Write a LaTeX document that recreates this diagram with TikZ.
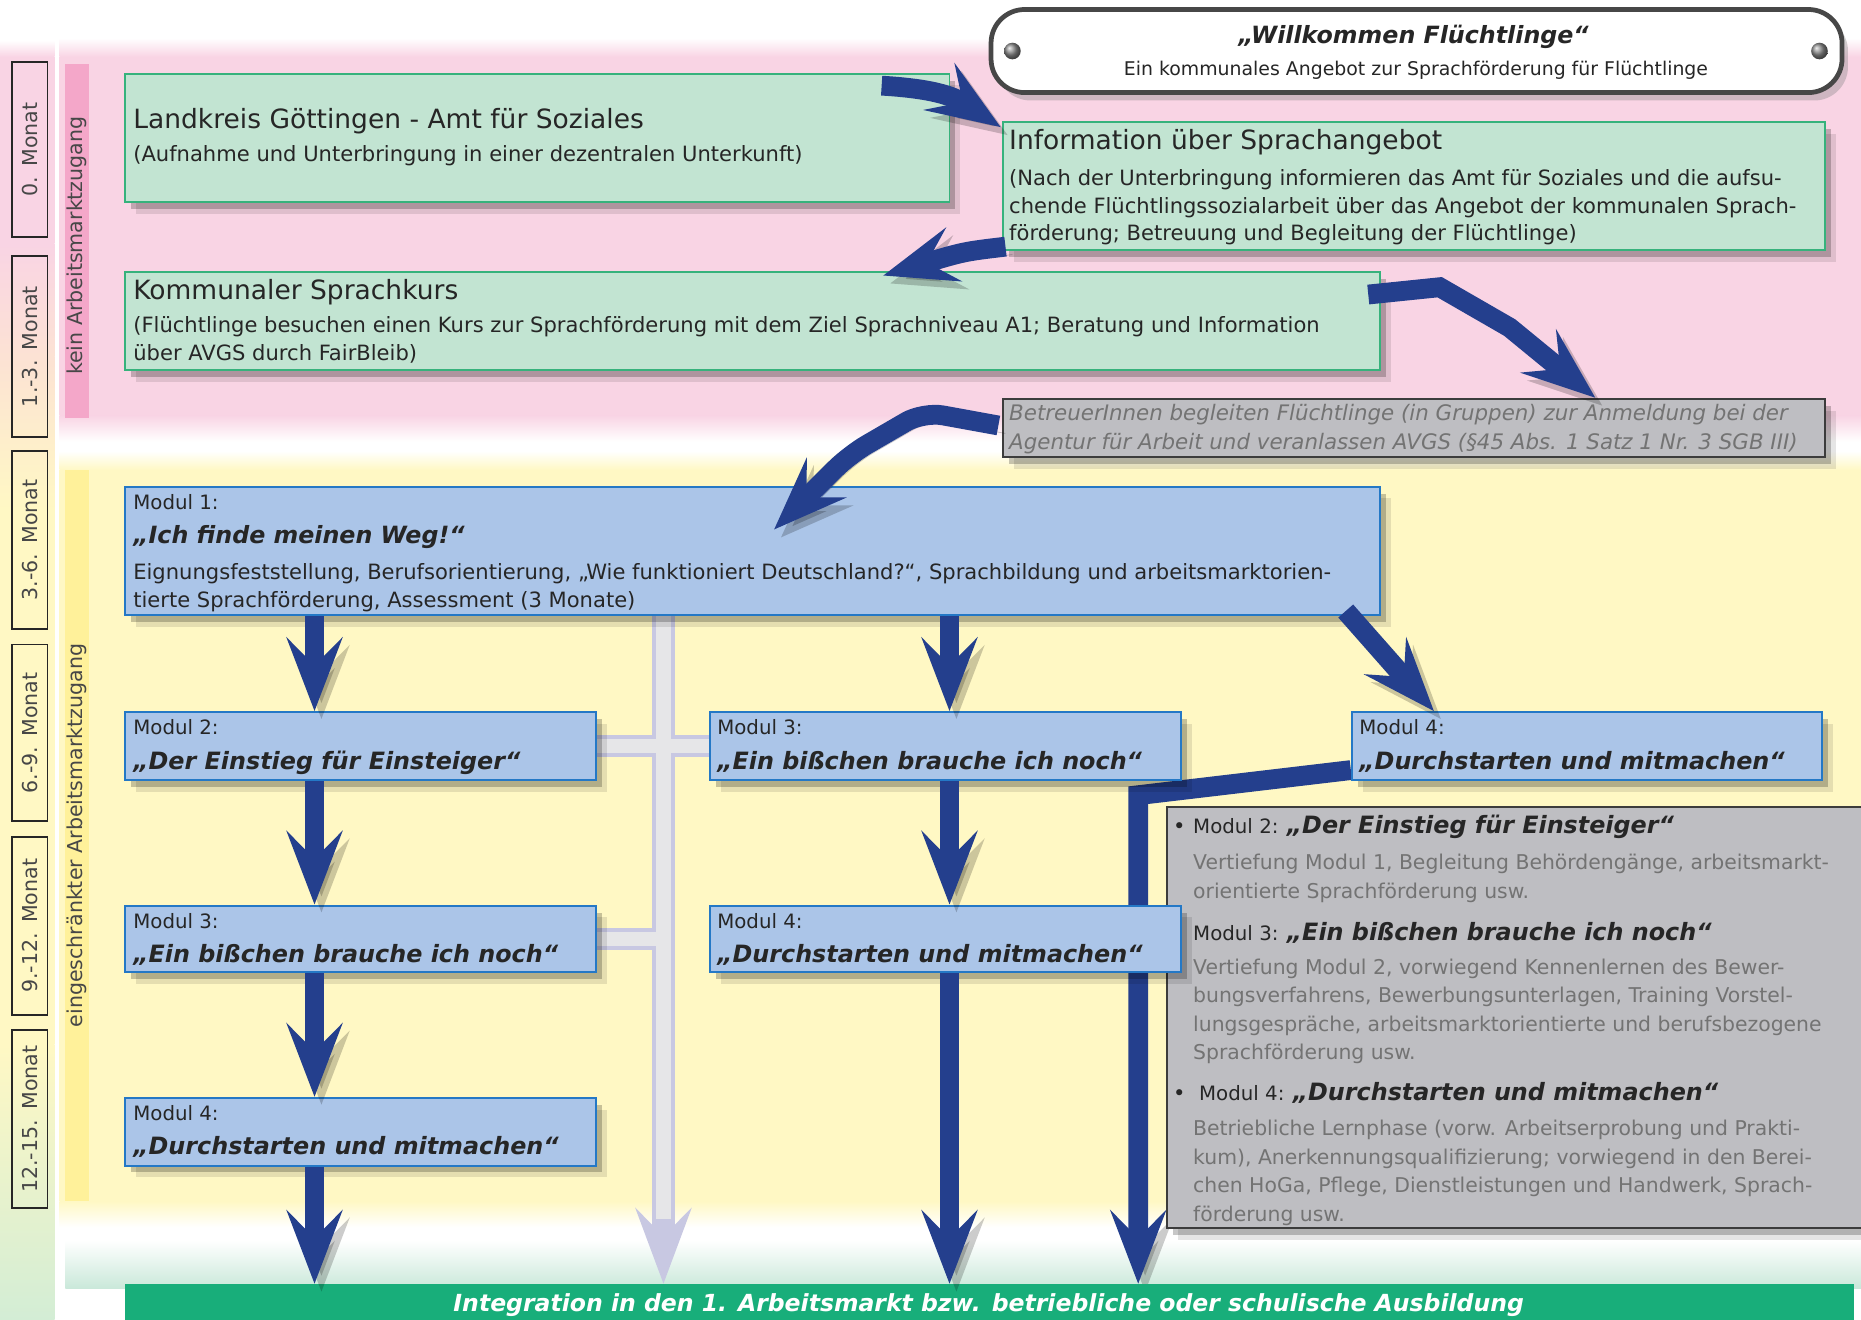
\documentclass[tikz,border=0pt]{standalone}
\usepackage{fontspec}
\setmainfont{DejaVu Sans}
\usetikzlibrary{arrows.meta,shadows,calc,fit}
\pgfdeclarelayer{bg}
\pgfdeclarelayer{back}
\pgfsetlayers{bg,back,main}
\definecolor{pinkbg}{HTML}{F9D4E4}
\definecolor{pinkbar}{HTML}{F4A7C9}
\definecolor{peach}{HTML}{FCE2D4}
\definecolor{yellowbg}{HTML}{FFF8C4}
\definecolor{yellowbar}{HTML}{FFF19A}
\definecolor{stripgreen}{HTML}{D3EDD5}
\definecolor{mint}{HTML}{C9E8D9}
\definecolor{gfill}{HTML}{C2E4D2}
\definecolor{gdraw}{HTML}{36B27C}
\definecolor{bfill}{HTML}{ABC5E8}
\definecolor{bdraw}{HTML}{2478C6}
\definecolor{grfill}{HTML}{BEBEC2}
\definecolor{grdraw}{HTML}{3C3C3C}
\definecolor{ablue}{HTML}{243F8D}
\definecolor{lav}{HTML}{C8C8E2}
\definecolor{lgray}{HTML}{E6E6E8}
\definecolor{barg}{HTML}{18AE7A}
\definecolor{ink}{HTML}{262626}
\definecolor{graytxt}{HTML}{737373}
\newcommand\fBody{\fontsize{10.65}{12}\selectfont}
\newcommand\fDesc{\fontsize{10.3}{12}\selectfont}
\newcommand\fBetr{\fontsize{10.8}{12}\selectfont\itshape}
\newcommand\fHead{\fontsize{13.4}{16}\selectfont}
\newcommand\fLab{\fontsize{10}{12}\selectfont}
\newcommand\fTit{\fontsize{12.05}{15}\selectfont\bfseries\itshape}
\newcommand\fBig{\fontsize{12}{15}\selectfont\bfseries\itshape}
\begin{document}
\begin{tikzpicture}[x=0.6pt,y=-0.6pt,
  sh/.style={drop shadow={shadow xshift=3pt,shadow yshift=-3.5pt,opacity=.22,fill=black},
             drop shadow={shadow xshift=5.5pt,shadow yshift=-6pt,opacity=.10,fill=black}},
  gbox/.style={draw=gdraw,fill=gfill,line width=1pt,inner sep=0,sh},
  bbox/.style={draw=bdraw,fill=bfill,line width=1pt,inner sep=0,sh},
  grbox/.style={draw=grdraw,fill=grfill,line width=1pt,inner sep=0,sh},
  mbox/.style={draw=black!85,line width=0.9pt,inner sep=0},
  txt/.style={anchor=base west,inner sep=0,text=ink},
  rot/.style={rotate=90,inner sep=0,text=ink!85,font=\fontsize{10.4}{12}\selectfont},
  bigarrow/.style={draw=ablue,line width=10pt,line join=miter,
     -{Stealth[length=37pt,width=28pt,inset=14pt]},
     preaction={draw=black,opacity=.2,transform canvas={shift={(3.5pt,-4pt)}}}},
  lightarrow/.style={draw=lav,line width=12pt,-{Stealth[length=38pt,width=28pt,inset=14pt]}},
]
\useasboundingbox (0,0) rectangle (1568,1112);

\begin{pgfonlayer}{bg}
  \fill[white] (0,0) rectangle (1568,1112);
  % left month strip
  \shade[top color=white,bottom color=pinkbg] (0,34) rectangle (46,48);
  \fill[pinkbg] (0,48) rectangle (46,205);
  \shade[top color=pinkbg,bottom color=peach] (0,205) rectangle (46,300);
  \shade[top color=peach,bottom color=yellowbg] (0,300) rectangle (46,430);
  \fill[yellowbg] (0,430) rectangle (46,880);
  \shade[top color=yellowbg,bottom color=stripgreen] (0,880) rectangle (46,1112);
  % bands
  \shade[top color=white,bottom color=pinkbg] (50,32) rectangle (1568,48);
  \fill[pinkbg] (50,48) rectangle (1568,350);
  \shade[top color=pinkbg,bottom color=white] (50,350) rectangle (1568,372);
  \shade[top color=white,bottom color=yellowbg] (50,380) rectangle (1568,396);
  \fill[yellowbg] (50,396) rectangle (1568,1012);
  \shade[top color=yellowbg,bottom color=white] (50,1012) rectangle (1568,1034);
  \shade[top color=white,bottom color=mint] (55,1045) rectangle (1568,1086);
  % vertical bars
  \fill[pinkbar] (55,54) rectangle (75,352);
  \fill[yellowbar] (55,396) rectangle (75,1012);
\end{pgfonlayer}

% vertical labels
\node[rot] (kein) at (65,207) {kein Arbeitsmarktzugang};
\node[rot] (einge) at (65,704) {eingeschränkter Arbeitsmarktzugang};

% month boxes
\foreach \i/\a/\b/\t in {0/52/200/{0.\enspace Monat},1/216/368/{1.-3.\enspace Monat},
  2/380/530/{3.-6.\enspace Monat},3/543/692/{6.-9.\enspace Monat},
  4/705/855/{9.-12.\enspace Monat},5/868/1018/{12.-15.\enspace Monat}}{
  \node[mbox,fit={(10,\a) (40,\b)}] (mo\i) {};
  \node[rot] (ml\i) at (mo\i.center) {\t};
}

% title plate
\node[fit={(835,8) (1552,78)},inner sep=0,rounded corners=17pt,draw=black!72,line width=2.4pt,
  fill=white,drop shadow={shadow xshift=3pt,shadow yshift=-4pt,opacity=.35}] (plate) {};
\shade[ball color=black!45] (853,43) circle (4.2pt);
\shade[ball color=black!45] (1533,43) circle (4.2pt);
\node[anchor=base,inner sep=0,text=ink] (ttl) at (1191,37) {\fontsize{12}{15}\selectfont\bfseries\itshape „Willkommen Flüchtlinge“};
\node[anchor=base,inner sep=0,text=ink] (sub) at (1193,64) {\fontsize{9.55}{11}\selectfont Ein kommunales Angebot zur Sprachförderung für Flüchtlinge};

% right gray box
\node[grbox,fit={(983,680) (1585,1035)}] (gr) {};
\node[txt] (gb1) at (988,702) {\fBody •};
\node[txt] (gt1) at (1005,702) {\fLab Modul 2: \fTit „Der Einstieg für Einsteiger“};
\node[txt,text=graytxt] (gd11) at (1005,733) {\fDesc Vertiefung Modul 1, Begleitung Behördengänge, arbeitsmarkt-};
\node[txt,text=graytxt] (gd12) at (1005,757) {\fDesc orientierte Sprachförderung usw.};
\node[txt] (gt2) at (1005,792) {\fLab Modul 3: \fTit „Ein bißchen brauche ich noch“};
\node[txt,text=graytxt] (gd21) at (1005,821) {\fDesc Vertiefung Modul 2, vorwiegend Kennenlernen des Bewer-};
\node[txt,text=graytxt] (gd22) at (1005,845) {\fDesc bungsverfahrens, Bewerbungsunterlagen, Training Vorstel-};
\node[txt,text=graytxt] (gd23) at (1005,869) {\fDesc lungsgespräche, arbeitsmarktorientierte und berufsbezogene};
\node[txt,text=graytxt] (gd24) at (1005,893) {\fDesc Sprachförderung usw.};
\node[txt] (gb3) at (988,927) {\fBody •};
\node[txt] (gt3) at (1010,927) {\fLab Modul 4: \fTit „Durchstarten und mitmachen“};
\node[txt,text=graytxt] (gd31) at (1005,957) {\fDesc Betriebliche Lernphase (vorw. Arbeitserprobung und Prakti-};
\node[txt,text=graytxt] (gd32) at (1005,981) {\fDesc kum), Anerkennungsqualifizierung; vorwiegend in den Berei-};
\node[txt,text=graytxt] (gd33) at (1005,1005) {\fDesc chen HoGa, Pflege, Dienstleistungen und Handwerk, Sprach-};
\node[txt,text=graytxt] (gd34) at (1005,1029) {\fDesc förderung usw.};

% Betreuer box
\node[grbox,fit={(845,336) (1538,385)}] (betr) {};
\node[txt,text=graytxt] (bt1) at (850,354) {\fBetr BetreuerInnen begleiten Flüchtlinge (in Gruppen) zur Anmeldung bei der};
\node[txt,text=graytxt] (bt2) at (850,379) {\fBetr Agentur für Arbeit und veranlassen AVGS (§45 Abs. 1 Satz 1 Nr. 3 SGB III)};

% green boxes
\node[gbox,fit={(105,62) (800,170)}] (land) {};
\node[txt] (lt1) at (112,108) {\fHead Landkreis Göttingen - Amt für Soziales};
\node[txt] (lt2) at (112,136) {\fBody (Aufnahme und Unterbringung in einer dezentralen Unterkunft)};

\node[gbox,fit={(845,103) (1538,211)}] (info) {};
\node[txt] (it1) at (850,126) {\fHead Information über Sprachangebot};
\node[txt] (it2) at (850,156) {\fBody (Nach der Unterbringung informieren das Amt für Soziales und die aufsu-};
\node[txt] (it3) at (850,180) {\fBody chende Flüchtlingssozialarbeit über das Angebot der kommunalen Sprach-};
\node[txt] (it4) at (850,203) {\fBody förderung; Betreuung und Begleitung der Flüchtlinge)};

\node[gbox,fit={(105,229) (1163,312)}] (kom) {};
\node[txt] (kt1) at (112,252) {\fHead Kommunaler Sprachkurs};
\node[txt] (kt2) at (112,280) {\fBody (Flüchtlinge besuchen einen Kurs zur Sprachförderung mit dem Ziel Sprachniveau A1; Beratung und Information};
\node[txt] (kt3) at (112,304) {\fBody über AVGS durch FairBleib)};

% blue boxes
\node[bbox,fit={(105,410) (1163,518)}] (m1) {};
\node[txt] (m1a) at (112,429) {\fLab Modul 1:};
\node[txt] (m1b) at (112,458) {\fBig „Ich finde meinen Weg!“};
\node[txt] (m1c) at (112,488) {\fBody Eignungsfeststellung, Berufsorientierung, „Wie funktioniert Deutschland?“, Sprachbildung und arbeitsmarktorien-};
\node[txt] (m1d) at (112,512) {\fBody tierte Sprachförderung, Assessment (3 Monate)};

\node[bbox,fit={(105,600) (502,657)}] (m2l) {};
\node[txt] (m2la) at (112,619) {\fLab Modul 2:};
\node[txt] (m2lb) at (112,648) {\fTit „Der Einstieg für Einsteiger“};

\node[bbox,fit={(105,763) (502,819)}] (m3l) {};
\node[txt] (m3la) at (112,782) {\fLab Modul 3:};
\node[txt] (m3lb) at (112,811) {\fTit „Ein bißchen brauche ich noch“};

\node[bbox,fit={(105,925) (502,982)}] (m4l) {};
\node[txt] (m4la) at (112,944) {\fLab Modul 4:};
\node[txt] (m4lb) at (112,973) {\fTit „Durchstarten und mitmachen“};

\node[bbox,fit={(598,600) (995,657)}] (m3m) {};
\node[txt] (m3ma) at (604,619) {\fLab Modul 3:};
\node[txt] (m3mb) at (604,648) {\fTit „Ein bißchen brauche ich noch“};

\node[bbox,fit={(598,763) (995,819)}] (m4m) {};
\node[txt] (m4ma) at (604,782) {\fLab Modul 4:};
\node[txt] (m4mb) at (604,811) {\fTit „Durchstarten und mitmachen“};

\node[bbox,fit={(1139,600) (1535,657)}] (m4r) {};
\node[txt] (m4ra) at (1145,619) {\fLab Modul 4:};
\node[txt] (m4rb) at (1145,648) {\fTit „Durchstarten und mitmachen“};

% bottom bar
\node[fit={(105,1082) (1562,1122)},fill=barg,inner sep=0] (bar) {};
\node[anchor=base,inner sep=0,text=white] (bartxt) at (833,1105) {\fontsize{11.9}{13}\selectfont\bfseries\itshape Integration in den 1. Arbeitsmarkt bzw. betriebliche oder schulische Ausbildung};

% helper coordinates
\coordinate (lx) at (559,0);
\coordinate (lc) at (265,0);
\coordinate (mc) at (800,0);
\coordinate (rc) at (959,670);

% arrows behind boxes
\begin{pgfonlayer}{back}
  \draw[lightarrow] (m1.south -| lx) -- (bar.north -| lx);
  \draw[draw=lav,line width=11pt] (m2l.east) -- (m3m.west);
  \draw[draw=lav,line width=11pt] (m3l.east) -- (m3l.east -| lx);
  \draw[draw=lgray,line width=7.5pt] (m1.south -| lx) -- ($(bar.north -| lx)+(0,-55)$);
  \draw[draw=lgray,line width=7pt] ($(m2l.east)+(-2,0)$) -- ($(m3m.west)+(2,0)$);
  \draw[draw=lgray,line width=7pt] ($(m3l.east)+(-2,0)$) -- (m3l.east -| lx);
  \draw[bigarrow] ($(m4r.south west)+(0,-9)$) -- (rc) -- (bar.north -| rc);
\end{pgfonlayer}

% main arrows
\draw[bigarrow] (m1.south -| lc) -- (m2l.north -| lc);
\draw[bigarrow] (m2l.south -| lc) -- (m3l.north -| lc);
\draw[bigarrow] (m3l.south -| lc) -- (m4l.north -| lc);
\draw[bigarrow] (m4l.south -| lc) -- (bar.north -| lc);
\draw[bigarrow] (m1.south -| mc) -- (m3m.north -| mc);
\draw[bigarrow] (m3m.south -| mc) -- (m4m.north -| mc);
\draw[bigarrow] (m4m.south -| mc) -- (bar.north -| mc);
\draw[bigarrow] ($(m1.south east)+(-30,-4)$) -- ($(m4r.north west)+(70,0)$);
\draw[bigarrow] ($(land.north east)+(-58,11)$) .. controls (790,75) and (805,82) .. ($(info.north west)+(-1,5)$);
\draw[bigarrow] ($(info.south west)+(3,-4)$) .. controls (812,212) .. ($(kom.north west)+(640,4)$);
\draw[bigarrow] ($(kom.north east)+(-11,20)$) -- (1213,242) -- (1272,276) -- ($(betr.north west)+(500,0)$);
\draw[bigarrow,rounded corners=10pt] ($(betr.west)+(-3,-2)$) -- (778,347) -- (716,383) -- ($(m1.north west)+(548,37)$);
\end{tikzpicture}
\end{document}
